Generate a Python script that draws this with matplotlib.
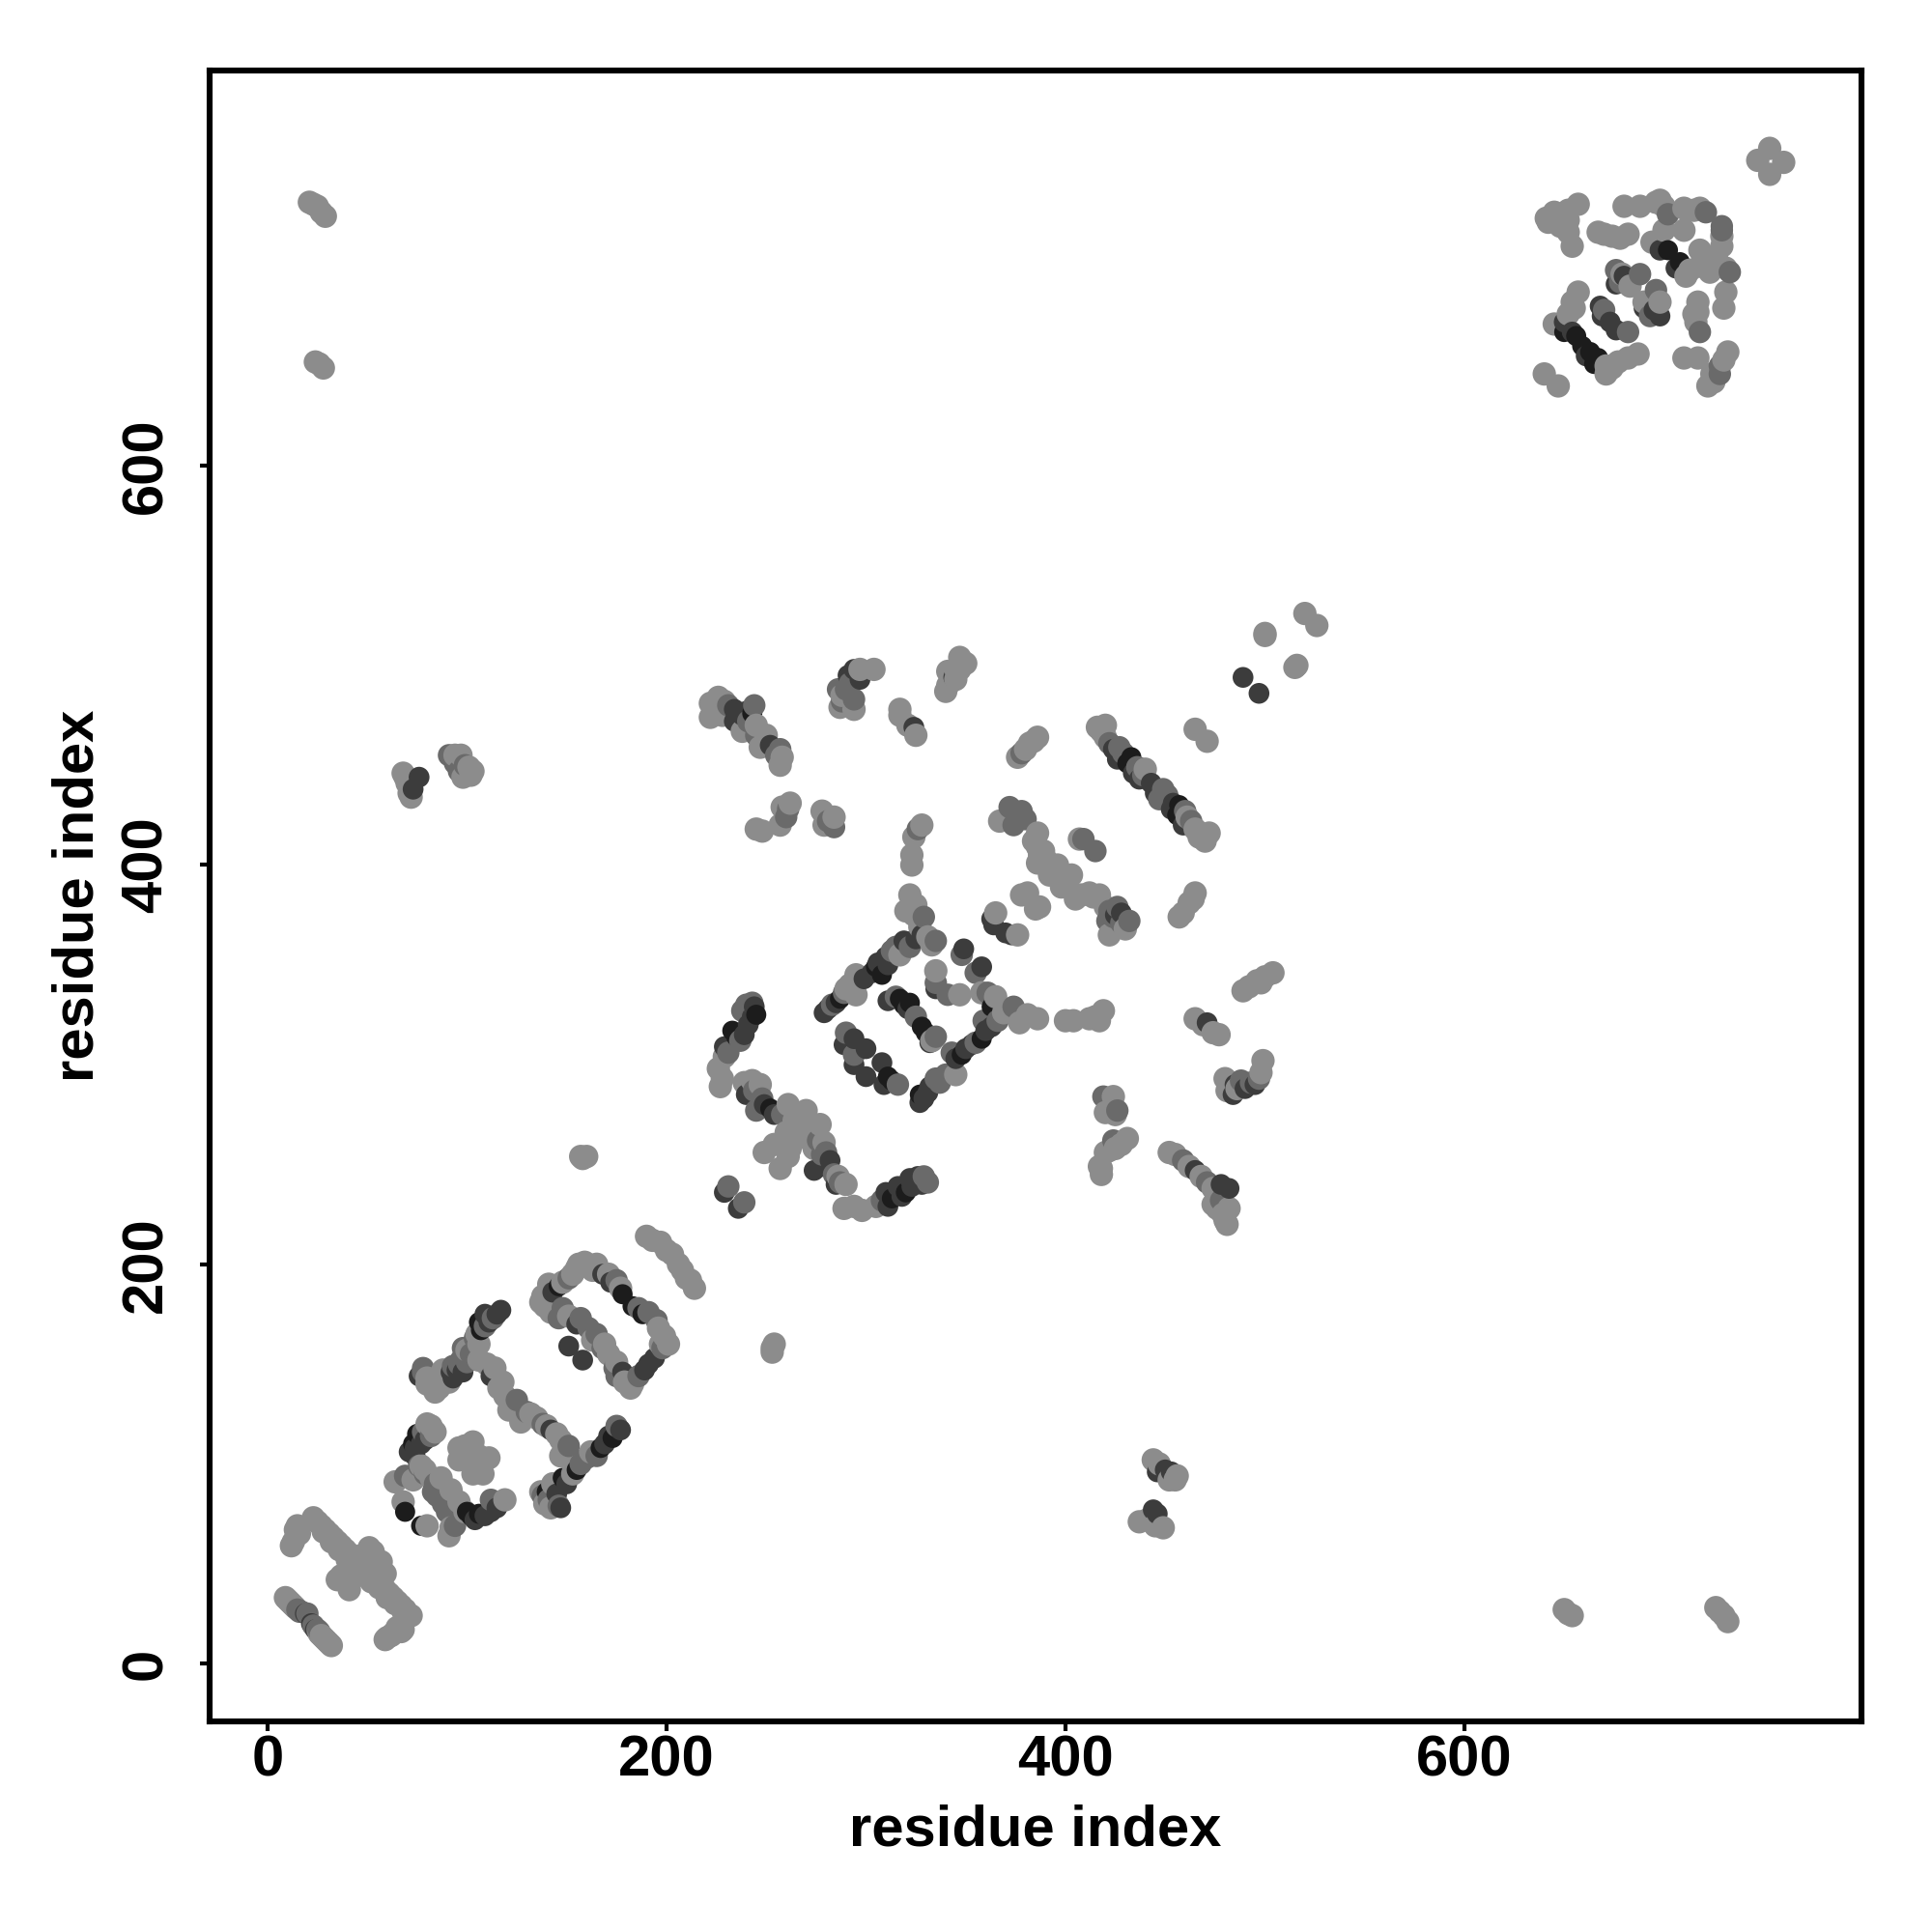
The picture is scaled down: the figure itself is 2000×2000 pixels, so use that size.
import matplotlib
matplotlib.use('Agg')
import matplotlib.pyplot as plt

# contact pairs (residue i, residue j), grouped by shade
vdark = [(73,110),(75,115),(102,74),(69,76),(77,69),(100,76),(106,75),(107,167),(106,171),(167,108),(173,113),(148,93),
         (155,97),(140,86),(146,189),(178,185),(183,179),(188,175),(245,325),(233,317),(235,314),(252,278),(313,233),
         (320,236),(287,333),(308,345),(305,349),(319,330),(317,333),(328,319),(330,316),(322,331),(311,294),(313,292),
         (327,285),(348,305),(358,313),(363,329),(433,454),(431,451),(457,430),(456,425),(243,476),(702,708),(708,702),
         (667,654),(663,657),(656,665),(650,667),(659,660),(665,651)]
dark = [(19,25),(22,20),(24,17),(74,104),(77,110),(109,74),(115,78),(71,106),(79,112),(74,108),(112,76),(104,72),
        (117,177),(115,175),(111,171),(109,175),(95,147),(92,146),(76,144),(112,144),(93,143),(98,146),(142,117),
        (177,117),(171,114),(169,110),(150,90),(145,85),(147,78),(143,186),(168,195),(172,191),(194,153),(189,147),
        (191,150),(155,170),(178,146),(151,159),(158,152),(229,236),(236,228),(244,329),(241,320),(239,315),(229,309),
        (243,324),(240,285),(249,280),(254,275),(278,249),(274,247),(285,240),(311,229),(310,236),(316,239),(318,234),
        (323,239),(326,244),(282,252),(328,240),(322,243),(279,326),(303,346),(306,351),(310,354),(319,362),(328,365),
        (281,328),(285,331),(299,343),(311,350),(325,363),(311,332),(321,328),(332,311),(294,313),(289,310),(300,308),
        (294,300),(308,301),(300,294),(309,290),(327,281),(329,283),(331,286),(332,289),(353,310),(363,319),(345,303),
        (350,308),(360,317),(349,358),(358,349),(335,338),(364,370),(373,365),(370,366),(363,373),(425,375),(489,494),
        (497,486),(426,453),(437,443),(424,458),(434,446),(443,441),(445,436),(453,428),(454,431),(459,420),(234,478),
        (240,477),(234,472),(238,475),(252,460),(294,498),(297,493),(291,495),(344,494),(324,469),(698,708),(706,699),
        (654,667),(661,655),(650,672),(668,680),(669,675),(676,668),(673,672),(676,691),(680,695),(698,675),(690,679),
        (695,678),(73,438),(76,444),(453,96),(446,96),(450,97),(444,77),(446,75),(484,285),(490,288),(495,290),(485,290),
        (471,321),(465,247),(478,240),(482,238),(428,376)]
mid = [(15,27),(16,26),(17,26),(20,25),(23,19),(25,17),(26,16),(69,94),(83,86),(88,80),(94,69),(112,82),(82,114),(78,116),
       (84,90),(79,95),(76,99),(90,76),(85,84),(113,173),(109,169),(104,163),(78,146),(78,148),(93,149),(97,152),(96,150),
       (100,151),(102,155),(98,158),(125,132),(130,126),(138,120),(151,109),(175,119),(165,104),(160,103),(157,100),(138,84),
       (146,79),(141,82),(151,193),(175,192),(186,178),(191,176),(195,172),(198,158),(175,144),(186,144),(146,173),(148,178),
       (161,168),(157,173),(165,165),(168,158),(174,148),(231,239),(239,231),(240,330),(237,312),(238,327),(231,306),(243,331),
       (244,287),(245,277),(248,283),(258,275),(278,255),(284,245),(276,262),(280,256),(287,241),(331,241),(329,244),(308,232),
       (283,330),(289,336),(329,374),(335,362),(315,359),(313,357),(322,359),(315,334),(325,324),(335,314),(290,316),(294,305),
       (316,290),(335,293),(337,291),(340,295),(343,306),(355,311),(359,322),(366,322),(361,336),(374,329),(348,355),(355,346),
       (335,341),(341,335),(422,377),(428,371),(421,372),(419,284),(426,277),(424,262),(427,459),(422,461),(429,456),(436,449),
       (439,445),(449,438),(447,433),(451,435),(460,427),(463,422),(378,456),(244,480),(241,472),(245,465),(255,455),(231,480),
       (257,458),(292,491),(286,488),(294,483),(290,488),(288,482),(260,424),(261,428),(284,419),(281,422),(326,418),(372,429),
       (378,427),(380,423),(374,420),(409,413),(415,407),(426,379),(432,372),(424,374),(702,726),(721,727),(729,718),(729,720),
       (733,697),(718,667),(728,650),(728,646),(670,678),(682,667),(676,698),(688,696),(678,692),(696,688),(693,675),(91,455),
       (96,447),(99,450),(94,451),(497,293),(493,291),(488,292),(459,252),(471,241),(478,232)]
light = [(9,33),(10,32),(11,31),(12,30),(13,29),(14,28),(26,15),(27,14),(28,13),(29,12),(30,11),(31,10),(32,9),
         (23,73),(25,71),(27,69),(29,67),(31,65),(33,63),(35,61),(37,59),(39,57),(41,55),(43,53),(45,50),(47,48),(49,46),
         (51,44),(53,42),(55,41),(57,39),(59,37),(61,35),(63,33),(65,31),(67,29),(69,27),(72,24),(28,66),(32,61),(36,57),
         (40,52),(44,50),(48,45),(52,41),(56,38),(60,33),(64,30),(68,26),(15,69),(12,59),(14,67),(16,65),(13,61),(51,58),
         (57,51),(59,45),(35,42),(41,37),(37,44),(45,44),(47,54),(53,56),(60,13),(63,15),(67,16),(62,14),(65,18),(68,17),
         (59,12),(82,119),(77,99),(82,93),(87,93),(64,91),(92,87),(96,81),(99,76),(119,82),(91,64),(68,81),(80,69),(103,111),
         (96,108),(96,102),(111,103),(108,95),(103,95),(79,97),(73,92),(92,68),(99,109),(106,104),(105,100),(84,116),(80,120),
         (105,165),(106,160),(84,136),(89,143),(100,157),(80,143),(82,140),(86,138),(88,147),(91,141),(80,140),(106,152),
         (114,148),(118,141),(121,127),(132,125),(127,121),(140,119),(145,115),(147,104),(110,150),(116,138),(119,134),(122,130),
         (135,123),(147,112),(162,106),(153,95),(143,90),(142,78),(139,80),(137,86),(138,184),(141,190),(159,201),(155,198),
         (140,182),(148,191),(153,195),(156,200),(161,199),(163,197),(165,200),(171,195),(177,188),(199,164),(201,160),(183,140),
         (182,138),(179,141),(197,160),(196,168),(137,181),(139,179),(142,176),(151,174),(169,160),(175,151),(171,155),(163,162),
         (190,214),(193,212),(197,211),(200,207),(203,205),(206,200),(208,197),(210,193),(212,192),(214,188),(229,304),(226,298),
         (228,293),(227,289),(239,291),(243,292),(247,290),(261,280),(264,272),(270,277),(277,270),(270,264),(279,261),(274,258),
         (286,244),(290,240),(289,228),(294,229),(298,227),(305,229),(266,270),(272,267),(249,256),(254,260),(261,254),(257,248),
         (260,266),(264,262),(262,258),(268,268),(290,338),(295,345),(295,335),(292,340),(322,385),(325,380),(320,377),(331,364),
         (333,360),(327,369),(324,375),(317,355),(333,312),(345,295),(358,336),(365,334),(377,321),(381,325),(386,323),(369,326),
         (400,322),(404,322),(412,323),(419,327),(415,324),(417,322),(335,347),(347,335),(365,376),(376,365),(378,385),(385,378),
         (414,384),(422,365),(430,368),(424,284),(420,276),(431,263),(420,256),(417,249),(418,245),(520,526),(526,520),(500,516),
         (500,515),(516,500),(515,499),(465,468),(471,462),(416,469),(420,470),(420,464),(418,467),(440,448),(472,416),(467,414),
         (470,412),(461,424),(465,418),(386,464),(382,461),(380,458),(376,454),(384,462),(222,481),(222,474),(229,482),(228,475),
         (238,467),(245,470),(250,465),(247,459),(258,454),(257,450),(226,478),(226,484),(304,498),(297,498),(287,479),(294,478),
         (288,485),(347,504),(350,501),(345,498),(341,497),(345,493),(341,490),(340,487),(347,498),(317,478),(317,475),(321,470),
         (325,465),(262,431),(258,429),(257,420),(248,417),(245,418),(278,427),(284,424),(279,420),(328,420),(324,414),(323,405),
         (323,400),(367,422),(386,416),(386,409),(387,405),(396,400),(386,401),(392,395),(403,395),(398,389),(408,385),(405,383),
         (417,385),(390,403),(394,397),(400,392),(412,386),(384,412),(389,407),(381,386),(387,379),(465,386),(459,376),(462,381),
         (457,374),(464,383),(420,379),(753,759),(747,753),(760,752),(753,746),(657,731),(652,728),(641,724),(642,722),(652,717),
         (654,710),(647,725),(645,727),(648,720),(652,723),(680,730),(688,730),(696,732),(700,730),(698,733),(667,717),(674,715),
         (678,714),(682,716),(670,716),(700,718),(710,718),(710,729),(718,729),(715,728),(729,715),(694,712),(713,698),(711,695),
         (718,708),(718,700),(729,710),(727,702),(731,699),(721,704),(723,697),(731,687),(730,679),(717,682),(715,676),(716,672),
         (717,677),(710,654),(717,654),(732,657),(725,642),(730,653),(724,646),(722,640),(687,656),(682,654),(677,652),(671,646),
         (674,649),(671,650),(640,646),(647,640),(645,671),(654,682),(657,687),(652,676),(655,679),(679,696),(683,690),(698,682),
         (690,682),(21,732),(23,731),(25,730),(27,727),(29,725),(24,652),(26,651),(28,649),(68,446),(69,444),(70,441),(71,436),
         (72,434),(94,455),(97,455),(101,449),(102,445),(98,444),(103,447),(157,254),(160,254),(158,253),(253,156),(254,160),(253,158),
         (444,102),(447,100),(456,94),(455,92),(452,92),(437,71),(441,72),(444,73),(449,68),(445,69),(650,27),(652,25),(654,24),
         (726,28),(728,26),(730,24),(732,21),(504,346),(500,344),(496,342),(492,339),(489,337),(498,341),(499,302),(498,296),(486,288),
         (481,287),(480,293),(465,323),(469,320),(477,315),(474,316),(452,256),(455,255),(462,249),(468,244),(474,238),(476,233),
         (479,225),(480,222),(482,228),(474,230),(476,228),(481,220),(425,275),(425,258),(428,260),(422,257),(418,248),(407,413)]

shades = [(vdark, '#1c1c1c', 56), (dark, '#3c3c3c', 60), (mid, '#6a6a6a', 70), (light, '#8c8c8c', 76)]
ticks = [0, 200, 400, 600]

# drawn in residue order so the shades overlap each other
contacts = sorted((p[0], p[1], col, size) for pts, col, size in shades for p in pts)

plt.rcParams['font.family'] = ['Liberation Sans', 'DejaVu Sans']
plt.rcParams['font.weight'] = 'bold'

fig = plt.figure(figsize=(10, 10), dpi=200)
ax = fig.add_axes([217/2000, 1-1782/2000, (1927-217)/2000, (1782-73)/2000])

ax.scatter([c[0] for c in contacts], [c[1] for c in contacts], s=[c[3] for c in contacts],
           c=[c[2] for c in contacts], linewidths=0)

ax.set_xlim(-29, 799)
ax.set_ylim(-29, 798)
ax.set_xticks(ticks)
ax.set_yticks(ticks)
ax.set_yticklabels(ticks, rotation=90, va='center')
ax.tick_params(labelsize=21.5, width=1.5, length=3.5)
ax.tick_params(axis='x', pad=1.5)
ax.tick_params(axis='y', pad=10)
ax.set_xlabel('residue index', fontsize=21.5, fontweight='bold', labelpad=6)
ax.set_ylabel('residue index', fontsize=21.5, fontweight='bold', labelpad=5.7)
for s in ax.spines.values():
    s.set_linewidth(2.2)

fig.savefig('out.png', dpi=200, facecolor='white')
